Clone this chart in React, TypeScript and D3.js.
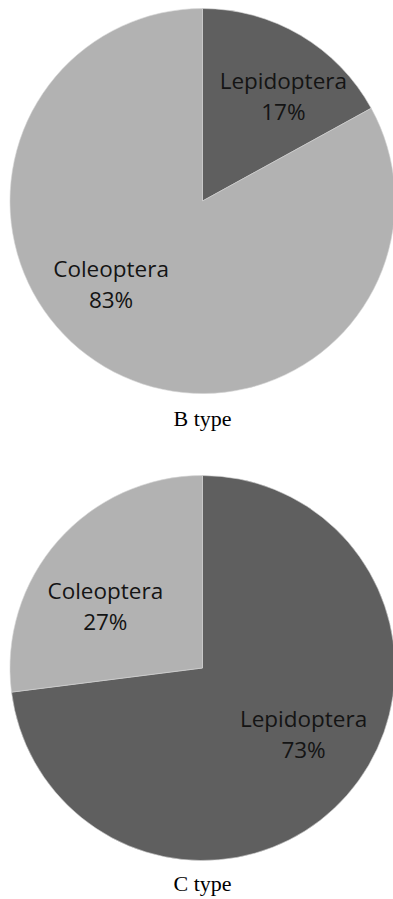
import React from "react";
import * as d3 from "d3";

const categories = ["Lepidoptera", "Coleoptera"];
const bTypeValues = [17, 83];
const cTypeValues = [73, 27];
const chartTitles = ["B type", "C type"];

const COLORS: Record<string, string> = {
  Lepidoptera: "#5f5f5f",
  Coleoptera: "#b2b2b2",
};

// label anchors relative to pie centre, as fractions of radius
const LABEL_POS = [
  [
    [0.42, -0.58],
    [-0.475, 0.395],
  ],
  [
    [0.525, 0.305],
    [-0.505, -0.36],
  ],
];

const W = 393;
const H = 899;
const R = 192.5;
const CX = 202.5;
const CENTERS_Y = [201, 668];
const TITLE_Y = [426, 891];

function Pie({ values, idx }: { values: number[]; idx: number }) {
  const data = categories.map((c, i) => ({ cat: c, value: values[i] }));
  const pie = d3
    .pie<{ cat: string; value: number }>()
    .value((d) => d.value)
    .sort(null);
  const arcs = pie(data);
  const arc = d3
    .arc<d3.PieArcDatum<{ cat: string; value: number }>>()
    .innerRadius(0)
    .outerRadius(R);
  const cy = CENTERS_Y[idx];
  return (
    <g>
      <g transform={`translate(${CX},${cy})`}>
        {arcs.map((a, i) => (
          <path
            key={i}
            d={arc(a) || ""}
            fill={COLORS[a.data.cat]}
            stroke="#d4d4d4"
            strokeWidth={0.6}
          />
        ))}
        {arcs.map((a, i) => {
          const [fx, fy] = LABEL_POS[idx][i];
          const x = fx * R;
          const y = fy * R;
          return (
            <text
              key={"t" + i}
              x={x}
              y={y}
              textAnchor="middle"
              fontFamily="'Open Sans', sans-serif"
              fontSize={22.5}
              fill="#141414"
            >
              <tspan x={x} y={y}>
                {a.data.cat}
              </tspan>
              <tspan x={x} y={y + 31}>
                {`${a.data.value}%`}
              </tspan>
            </text>
          );
        })}
      </g>
      <text
        x={CX}
        y={TITLE_Y[idx]}
        textAnchor="middle"
        fontFamily="'Liberation Serif', 'Times New Roman', serif"
        fontSize={22}
        fill="#000"
      >
        {chartTitles[idx]}
      </text>
    </g>
  );
}

export default function App() {
  return (
    <svg
      width={W}
      height={H}
      viewBox={`0 0 ${W} ${H}`}
      style={{ position: "absolute", left: 0, top: 0, display: "block", background: "#fff" }}
    >
      <rect width={W} height={H} fill="#fff" />
      <Pie values={bTypeValues} idx={0} />
      <Pie values={cTypeValues} idx={1} />
    </svg>
  );
}
